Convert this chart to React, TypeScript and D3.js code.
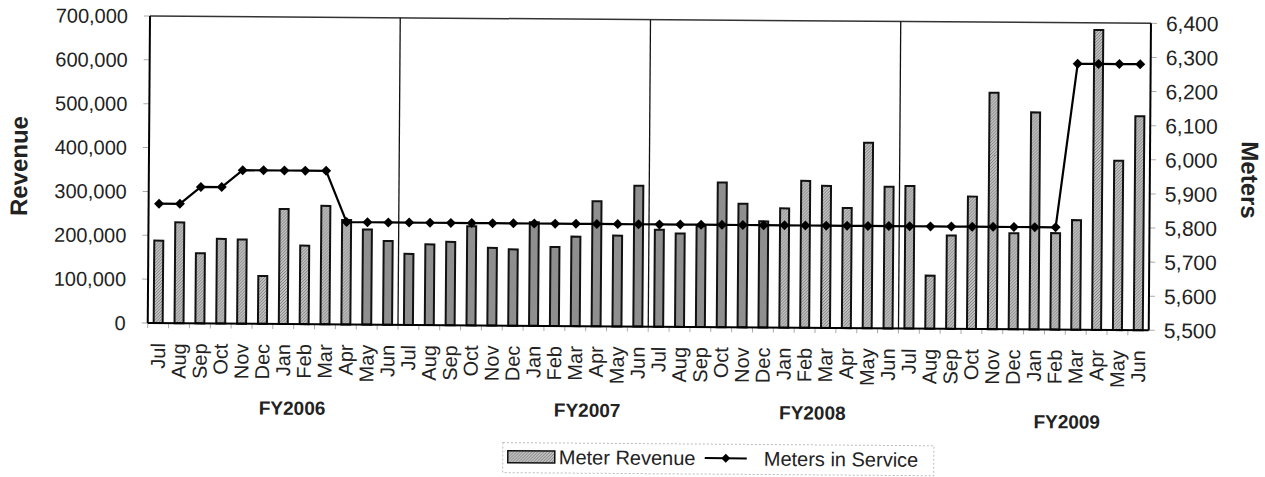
import * as d3 from "d3";

const months = ["Jul", "Aug", "Sep", "Oct", "Nov", "Dec", "Jan", "Feb", "Mar", "Apr", "May", "Jun"];
const fiscalYears = ["FY2006", "FY2007", "FY2008", "FY2009"];

const fy2006Revenue = [188000, 230000, 160000, 193000, 192000, 109000, 262000, 179000, 270000, 238000, 217000, 191000];
const fy2007Revenue = [162000, 184000, 190000, 226000, 177000, 174000, 236000, 180000, 204000, 285000, 207000, 321000];
const fy2008Revenue = [221000, 213000, 230000, 330000, 282000, 242000, 272000, 335000, 324000, 274000, 423000, 323000];
const fy2009Revenue = [325000, 121000, 213000, 302000, 539000, 219000, 495000, 220000, 250000, 684000, 386000, 488000];

const fy2006Meters = [5850, 5850, 5900, 5900, 5950, 5950, 5950, 5950, 5950, 5800, 5800, 5800];
const fy2007Meters = [5800, 5800, 5800, 5800, 5800, 5800, 5800, 5800, 5800, 5800, 5800, 5800];
const fy2008Meters = [5800, 5800, 5800, 5800, 5800, 5800, 5800, 5800, 5800, 5800, 5800, 5800];
const fy2009Meters = [5800, 5800, 5800, 5800, 5800, 5800, 5800, 5800, 6280, 6280, 6280, 6280];

const revenueTicks = [0, 100000, 200000, 300000, 400000, 500000, 600000, 700000];
const meterTicks = [5500, 5600, 5700, 5800, 5900, 6000, 6100, 6200, 6300, 6400];

// where the FY captions sit, in month units along the axis, and how far below it
const fyLabelAt = [6.45, 20.6, 31.4, 43.6];
const fyLabelDy = [84, 84, 85, 92];

const FONT = "'Liberation Sans', Arial, sans-serif";

export default function App() {
  const rows = fiscalYears.flatMap((fy, i) =>
    months.map((m, j) => ({
      key: `${fy}-${m}`,
      month: m,
      revenue: [fy2006Revenue, fy2007Revenue, fy2008Revenue, fy2009Revenue][i][j],
      meters: [fy2006Meters, fy2007Meters, fy2008Meters, fy2009Meters][i][j],
      idx: i * 12 + j,
    }))
  );

  const left = 150, right = 1151, top = 16, bottom = 323;
  const x = d3.scaleBand<string>().domain(rows.map((r) => r.key)).range([left, right]).padding(0);
  const bw = x.bandwidth();
  const yRev = d3.scaleLinear().domain([0, 700000]).range([bottom, top]);
  const yMet = d3.scaleLinear().domain([5500, 6400]).range([bottom, top]);
  const fmt = d3.format(",");

  const line = d3
    .line<(typeof rows)[number]>()
    .x((d) => (x(d.key) ?? 0) + bw / 2)
    .y((d) => yMet(d.meters));

  const barW = 9;
  // scan tone: a middle run of bars printed darker
  const darkFrom = 10, darkTo = 29;
  const diamond = (r: number) => `M0,${-r}L${r},0L0,${r}L${-r},0Z`;

  return (
    <svg width={1265} height={477} style={{ display: "block", position: "absolute", left: 0, top: 0, background: "#fff" }}>
      <defs>
        <pattern id="hatch" width="3" height="3" patternUnits="userSpaceOnUse">
          <rect width="3" height="3" fill="#c4c4c4" />
          <path d="M0,3L3,0M-1,1L1,-1M2,4L4,2" stroke="#7c7c7c" strokeWidth="1" />
        </pattern>
      </defs>
      <g transform={`rotate(0.42 ${left} ${top})`} fontFamily={FONT}>
        {/* frame */}
        <line x1={left} x2={right} y1={top} y2={top} stroke="#333" strokeWidth={1.5} />
        {/* left ticks */}
        {revenueTicks.map((t) => (
          <g key={t}>
            <line x1={left - 6} x2={left} y1={yRev(t)} y2={yRev(t)} stroke="#aaa" strokeWidth={1} />
            <text x={128} y={yRev(t)} dy="0.36em" textAnchor="end" fontSize={20} fill="#222">
              {fmt(t)}
            </text>
          </g>
        ))}
        {meterTicks.map((t) => (
          <g key={t}>
            <line x1={right} x2={right + 6} y1={yMet(t)} y2={yMet(t)} stroke="#aaa" strokeWidth={1} />
            <text x={1166} y={yMet(t)} dy="0.36em" textAnchor="start" fontSize={21} fill="#222">
              {fmt(t)}
            </text>
          </g>
        ))}
        {/* bottom ticks */}
        {rows.map((r) => (
          <line
            key={r.key + "t"}
            x1={x(r.key) ?? 0}
            x2={x(r.key) ?? 0}
            y1={bottom}
            y2={bottom + 5}
            stroke="#aaa"
            strokeWidth={1}
          />
        ))}
        {/* fiscal year separators */}
        {[12, 24, 36].map((i) => (
          <line
            key={i}
            x1={x(rows[i].key) ?? 0}
            x2={x(rows[i].key) ?? 0}
            y1={top}
            y2={bottom}
            stroke="#111"
            strokeWidth={1.3}
          />
        ))}
        {/* bars */}
        {rows.map((r) => (
          <rect
            key={r.key}
            x={(x(r.key) ?? 0) + (bw - barW) / 2}
            y={yRev(r.revenue)}
            width={barW}
            height={bottom - yRev(r.revenue)}
            fill={r.idx >= darkFrom && r.idx <= darkTo ? "#8f8f8f" : "url(#hatch)"}
            stroke="#111"
            strokeWidth={2}
          />
        ))}
        {/* meters line */}
        <path d={line(rows) ?? ""} fill="none" stroke="#000" strokeWidth={2.2} />
        {rows.map((r) => (
          <path
            key={r.key + "m"}
            transform={`translate(${(x(r.key) ?? 0) + bw / 2},${yMet(r.meters)})`}
            d={diamond(5)}
            fill="#000"
          />
        ))}
        {/* axes lines */}
        <line x1={left} x2={left} y1={top} y2={bottom} stroke="#000" strokeWidth={2} />
        <line x1={right} x2={right} y1={top} y2={bottom} stroke="#000" strokeWidth={2} />
        <line x1={left} x2={right} y1={bottom} y2={bottom} stroke="#000" strokeWidth={2} />
        {/* month labels */}
        {rows.map((r) => {
          const cx = (x(r.key) ?? 0) + bw / 2;
          return (
            <text
              key={r.key + "l"}
              transform={`translate(${cx},${bottom + 20}) rotate(-90)`}
              dy="0.35em"
              textAnchor="end"
              fontSize={20}
              fill="#222"
            >
              {r.month}
            </text>
          );
        })}
        {/* fiscal year captions */}
        {fiscalYears.map((fy, i) => (
          <text
            key={fy}
            x={left + fyLabelAt[i] * bw + bw / 2}
            y={bottom + fyLabelDy[i]}
            dy="0.35em"
            textAnchor="middle"
            fontSize={19}
            fontWeight="bold"
            fill="#222"
          >
            {fy}
          </text>
        ))}
        {/* axis titles */}
        <text transform="translate(20,167) rotate(-90)" dy="0.35em" textAnchor="middle" fontSize={24} fontWeight="bold" fill="#222">
          Revenue
        </text>
        <text transform="translate(1251,172) rotate(90)" dy="0.35em" textAnchor="middle" fontSize={24} fontWeight="bold" fill="#222">
          Meters
        </text>
        {/* legend */}
        <rect x={506} y={440} width={431} height={30} fill="#fff" stroke="#bbb" strokeWidth={1} strokeDasharray="2,2" />
        <rect x={511} y={448} width={47} height={12} fill="url(#hatch)" stroke="#111" strokeWidth={1.5} />
        <text x={562} y={454} dy="0.36em" fontSize={20} fill="#222">
          Meter Revenue
        </text>
        <line x1={708} x2={750} y1={454} y2={454} stroke="#000" strokeWidth={2} />
        <path transform="translate(729,454)" d={diamond(4.5)} fill="#000" />
        <text x={767} y={454} dy="0.36em" fontSize={20} fill="#222">
          Meters in Service
        </text>
      </g>
    </svg>
  );
}
